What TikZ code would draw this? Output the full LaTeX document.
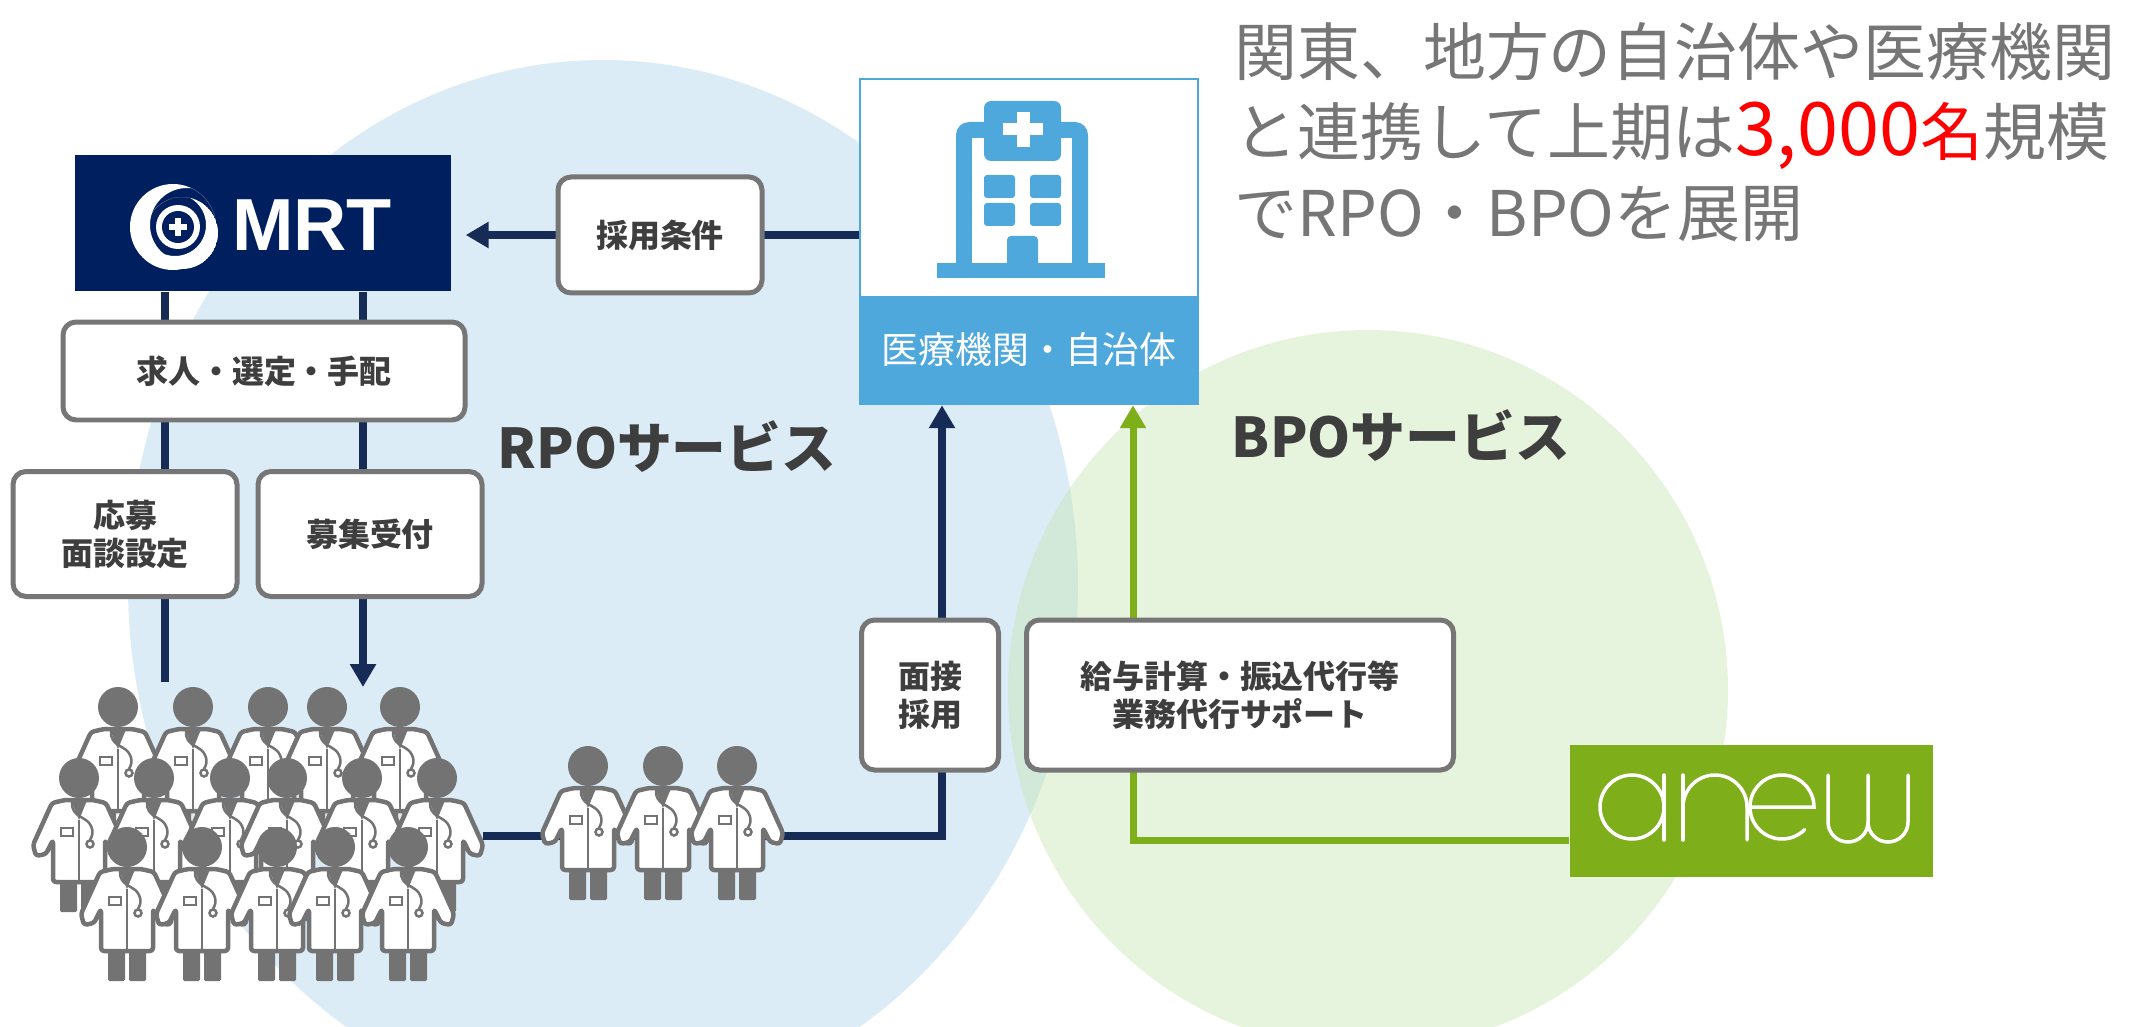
\documentclass[tikz,border=0pt]{standalone}
\usepackage{fontspec}
\setmainfont{Noto Sans CJK JP}
\newfontfamily\logofont{Liberation Sans}
\usetikzlibrary{arrows.meta,positioning}

\definecolor{mrtnavy}{RGB}{0,31,95}
\definecolor{wirenavy}{RGB}{23,43,87}
\definecolor{cardgray}{RGB}{118,118,118}
\definecolor{inkgray}{RGB}{62,62,62}
\definecolor{leadgray}{RGB}{118,118,118}
\definecolor{hospblue}{RGB}{79,168,220}
\definecolor{anewgreen}{RGB}{127,174,27}
\definecolor{rpofill}{RGB}{219,236,247}
\definecolor{bpofill}{RGB}{197,228,170}
\definecolor{docgray}{RGB}{115,115,115}

\pgfdeclarelayer{back}
\pgfdeclarelayer{wires}
\pgfsetlayers{back,wires,main}

\tikzset{
  card/.style={draw=cardgray, line width=0.5mm, rounded corners=1.3mm, fill=white,
    text=inkgray, font=\bfseries\fontsize{9.1}{10.8}\selectfont, align=center, inner sep=0pt},
  wire/.style={draw=wirenavy, line width=0.8mm},
  wirearrow/.style={wire, -{Triangle[length=2.3mm,width=2.5mm]}},
  greenwire/.style={draw=anewgreen, line width=0.7mm, -{Triangle[length=2.3mm,width=2.5mm]}},
  service/.style={text=inkgray, font=\bfseries\fontsize{15.6}{18}\selectfont},
  anewstroke/.style={draw=white, line width=0.35mm, line cap=round},
  % one doctor in a white coat, head centre at the pic origin
  doctor/.pic={
    \fill[docgray, rounded corners=0.15mm] (-19,98) rectangle (-2,134);
    \fill[docgray, rounded corners=0.15mm] (2,98) rectangle (19,134);
    \draw[docgray, fill=white, line width=0.45mm, line join=round, rounded corners=0.3mm]
      (-14,22) -- (14,22) -- (27,25) -- (46,67) -- (43,78) -- (33,76) -- (26,62)
      -- (26,104) -- (-26,104) -- (-26,62) -- (-33,76) -- (-43,78) -- (-46,67)
      -- (-27,25) -- cycle;
    \fill[docgray] (-9,20) -- (9,20) -- (0,42) -- cycle;
    \draw[docgray, line width=0.25mm] (0,42) -- (0,104);
    \draw[docgray, line width=0.25mm] (-18,50) rectangle (-6,58);
    \draw[docgray, line width=0.25mm] (-7,24) .. controls (-8,40) and (8,38) .. (12,48)
      .. controls (15,55) and (13,58) .. (11,62);
    \draw[docgray, line width=0.25mm] (11,66) circle (3.5);
    \fill[docgray] (0,0) circle (20);
  }
}

\begin{document}
\begin{tikzpicture}[x=0.1mm, y=-0.1mm]
  \useasboundingbox (0,0) rectangle (2145,1027);

  % service areas
  \begin{pgfonlayer}{back}
    \fill[white] (0,0) rectangle (2145,1027);
    \begin{scope}
      \clip (0,0) rectangle (2145,1027);
      \fill[rpofill] (603,585) ellipse [x radius=475, y radius=525];
      \fill[bpofill, fill opacity=0.4] (1368,690) circle (360);
    \end{scope}
  \end{pgfonlayer}

  % MRT
  \node[fill=mrtnavy, minimum width=37.6mm, minimum height=13.6mm, inner sep=0pt] (mrt) at (263,223) {};
  \begin{scope}
    \clip (173,227) circle (43);
    \fill[white, even odd rule] (173,227) circle (43) (187,225) circle (37);
  \end{scope}
  \begin{scope}
    \clip (182,233) circle (36);
    \fill[white, even odd rule] (182,233) circle (36) (175,225) circle (31);
  \end{scope}
  \fill[white] (178,227) circle (22);
  \fill[mrtnavy] (178,227) circle (16);
  \fill[white] (169,224) rectangle (187,230);
  \fill[white] (175,218) rectangle (181,236);
  \node[text=white, font=\logofont\bfseries\fontsize{21}{21}\selectfont] (mrtname) at (312,225) {MRT};

  % MRT side
  \node[card, minimum width=40.2mm, minimum height=9.8mm] (duties) at (264,371) {求人・選定・手配};
  \node[card, minimum width=22.4mm, minimum height=12.5mm] (interview) at (125,534) {応募\\面談設定};
  \node[card, minimum width=22.4mm, minimum height=12.5mm] (intake) at (370,534) {募集受付};
  \node[card, minimum width=20.4mm, minimum height=11.6mm] (terms) at (660,235) {採用条件};

  % hospital
  \node[draw=hospblue, line width=0.25mm, fill=white, minimum width=33.8mm, minimum height=32.5mm, inner sep=0pt] (hosp) at (1029,241.5) {};
  \coordinate (bandtop) at (1198,296);
  \fill[hospblue] (hosp.south west) rectangle (bandtop);
  \fill[hospblue] (937,263) rectangle (1105,278);
  \fill[hospblue, rounded corners=1.3mm] (956,122) rectangle (1088,278);
  \fill[white] (972,138) rectangle (1072,263);
  \fill[hospblue, rounded corners=0.7mm] (984,101) rectangle (1061,161);
  \fill[white] (1003,123) rectangle (1043,135);
  \fill[white] (1017,112) rectangle (1030,147);
  \foreach \wx in {984,1030}
    \foreach \wy in {175,203}
      \fill[hospblue, rounded corners=0.3mm] (\wx,\wy) rectangle ++(31,23);
  \fill[hospblue, rounded corners=0.4mm] (1007,236) rectangle (1038,272);
  \fill[hospblue] (937,263) rectangle (1105,278);
  \node[text=white, font=\fontsize{10.5}{12}\selectfont] (hosplabel) at (1029,349) {医療機関・自治体};

  \node[service] (rpo) at (667,447) {RPOサービス};
  \node[service] (bpo) at (1401,436) {BPOサービス};

  \node[card, minimum width=13.7mm, minimum height=15mm] (hire) at (930,695) {面接\\採用};
  \node[card, minimum width=42.7mm, minimum height=15mm] (payroll) at (1240,695) {給与計算・振込代行等\\業務代行サポート};

  % anew
  \node[fill=anewgreen, minimum width=36.3mm, minimum height=13.2mm, inner sep=0pt] (anew) at (1751.5,811) {};
  \draw[anewstroke] (1632,807) circle (32);
  \draw[anewstroke] (1664,775) -- (1664,840);
  \draw[anewstroke] (1683,775) -- (1683,840);
  \draw[anewstroke] (1683,807) arc[start angle=180, end angle=360, radius=32] -- (1747,840);
  \draw[anewstroke] (1750,807) -- (1814,807) arc[start angle=0, end angle=-315, radius=32];
  \draw[anewstroke] (1828,775) -- (1828,822) arc[start angle=180, end angle=0, radius=20]
    -- (1868,775);
  \draw[anewstroke] (1868,822) arc[start angle=180, end angle=0, radius=20] -- (1908,775);

  % doctors
  \foreach \hx in {118,193,268,327,400}
    \pic at (\hx,707) {doctor};
  \foreach \hx in {79,154,230,287,362,437}
    \pic at (\hx,778) {doctor};
  \foreach \hx in {127,202,277,335,408}
    \pic at (\hx,847) {doctor};
  \foreach \hx in {588,663,737}
    \pic at (\hx,766) {doctor};

  \coordinate (leftdrop) at (165,682);
  \coordinate (rightdrop) at (363,687);
  \coordinate (crowd) at (483,836);
  \coordinate (hireturn) at (942,836);
  \coordinate (payturn) at (1133,840);

  \begin{pgfonlayer}{wires}
    \draw[wirearrow, shorten >=1.4mm] (hosp.west |- terms) -- (mrt.east |- terms);
    \draw[wire] (mrt.south -| leftdrop) -- (leftdrop);
    \draw[wirearrow] (mrt.south -| rightdrop) -- (rightdrop);
    \draw[wirearrow] (crowd) -- (hireturn) -- (hosp.south -| hireturn);
    \draw[greenwire] (anew.west |- payturn) -- (payturn) -- (hosp.south -| payturn);
  \end{pgfonlayer}

  % headline
  \node[anchor=west, align=left, text=leadgray, font=\fontsize{17.9}{22.8}\selectfont] (lead) at (1222,132)
    {関東、地方の自治体や医療機関\\と連携して上期は{\color{red}{\fontsize{21}{22.8}\selectfont 3,000}名}規模\\でRPO・BPOを展開};
\end{tikzpicture}
\end{document}
